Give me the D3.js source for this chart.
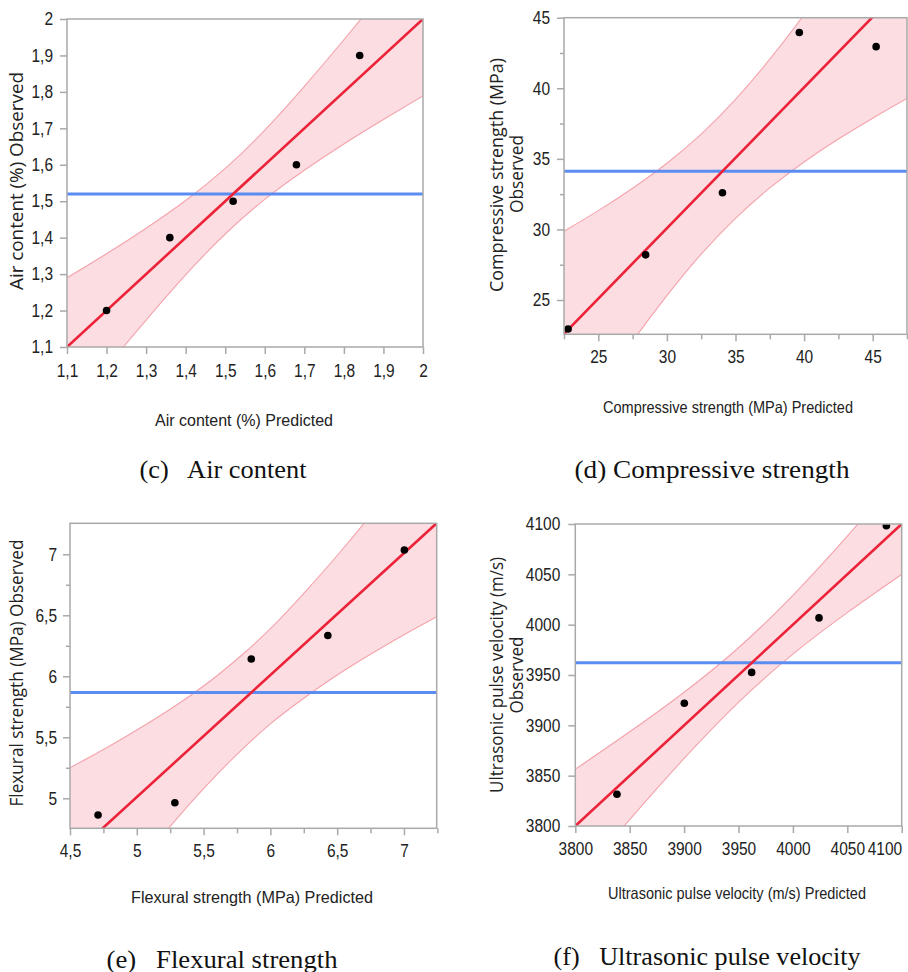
<!DOCTYPE html>
<html>
<head>
<meta charset="utf-8">
<script src="https://cdn.jsdelivr.net/npm/d3@7"></script>
<style>
  html, body { margin: 0; padding: 0; background: #fff; }
  svg { display: block; }
</style>
</head>
<body>
<svg id="chart" width="908" height="972"></svg>
<script>
// ---------- (c) Air content ----------
const airPred = [1.2, 1.36, 1.52, 1.68, 1.84];
const airObs = [1.2, 1.4, 1.5, 1.6, 1.9];
const airTicks = [1.1, 1.2, 1.3, 1.4, 1.5, 1.6, 1.7, 1.8, 1.9, 2];
const airBandX = [1.1, 1.2, 1.3, 1.4, 1.5, 1.6, 1.7, 1.8, 1.9, 2.0];
const airBandHi = [1.290, 1.356, 1.426, 1.502, 1.590, 1.695, 1.815, 1.943, 2.076, 2.211];
const airBandLo = [0.910, 1.044, 1.174, 1.298, 1.410, 1.505, 1.585, 1.657, 1.724, 1.789];
const airFitX = [1.1, 2.0];
const airFitY = [1.1, 2.0];

// ---------- (d) Compressive strength ----------
const compPred = [22.8, 28.45, 34.05, 39.65, 45.25];
const compObs = [22.95, 28.2, 32.6, 43.95, 42.95];
const compTicks = [25, 30, 35, 40, 45];
const compMinor = [22.5, 27.5, 32.5, 37.5, 42.5, 47.5];
const compYMinor = [27.5, 32.5, 37.5, 42.5];
const compBandX = [22.5, 25, 27.5, 30, 32.5, 35, 37.5, 40, 42.5, 45, 47.5];
const compBandHi = [29.87, 31.33, 32.92, 34.69, 36.75, 39.21, 42.06, 45.22, 48.6, 52.12, 55.72];
const compBandLo = [15.13, 18.67, 22.08, 25.31, 28.25, 30.79, 32.94, 34.78, 36.4, 37.88, 39.28];
const compFitX = [22.5, 47.5];
const compFitY = [22.6, 47.55];

// ---------- (e) Flexural strength ----------
const flexPred = [4.71, 5.285, 5.857, 6.43, 7.003];
const flexObs = [4.863, 4.964, 6.142, 6.334, 7.035];
const flexXTicks = [4.5, 5, 5.5, 6, 6.5, 7];
const flexXMinor = [4.75, 5.25, 5.75, 6.25, 6.75, 7.25];
const flexYTicks = [5, 5.5, 6, 6.5, 7];
const flexYMinor = [5.25, 5.75, 6.25, 6.75];
const flexBandX = [4.5, 4.75, 5, 5.25, 5.5, 5.75, 6, 6.25, 6.5, 6.75, 7, 7.25];
const flexBandHi = [5.25, 5.40, 5.56, 5.73, 5.92, 6.14, 6.39, 6.68, 6.99, 7.32, 7.67, 8.02];
const flexBandLo = [3.75, 4.10, 4.44, 4.77, 5.08, 5.36, 5.61, 5.82, 6.01, 6.18, 6.34, 6.49];
const flexFitX = [4.5, 7.25];
const flexFitY = [4.51, 7.26];

// ---------- (f) Ultrasonic pulse velocity ----------
const upvPred = [3838.3, 3900.2, 3962.1, 4024.0, 4085.9];
const upvObs = [3831.5, 3922.0, 3952.6, 4006.7, 4098.3];
const upvTicks = [3800, 3850, 3900, 3950, 4000, 4050, 4100];
const upvBandX = [3800, 3850, 3900, 3950, 4000, 4050, 4100];
const upvBandHi = [3856.4, 3893.6, 3932.9, 3977.1, 4029.2, 4088.0, 4150.0];
const upvBandLo = [3743.6, 3806.4, 3867.1, 3922.9, 3970.8, 4012.0, 4050.0];
const upvFitX = [3800, 4100];
const upvFitY = [3800, 4100];

const fmtComma = v => String(+(+v).toFixed(3)).replace(".", ",");
const svg = d3.select("#chart");
const W = 908;

// horizontally condense text to mimic the narrow original rendering
function condense(sel, factor) {
  sel.each(function () {
    const len = this.getComputedTextLength();
    if (len > 0) {
      d3.select(this).attr("textLength", len * factor).attr("lengthAdjust", "spacingAndGlyphs");
    }
  });
}
function styleTickText(sel) {
  sel.selectAll(".tick text")
    .style("font-family", "'Liberation Sans', sans-serif")
    .style("font-size", "18px")
    .style("fill", "#222");
}
function keepInside(sel) {
  sel.selectAll(".tick text").each(function () {
    const b = this.getBoundingClientRect();
    if (b.right > W - 3) {
      const cur = +d3.select(this).attr("x") || 0;
      d3.select(this).attr("x", cur - (b.right - (W - 3)));
    }
  });
}

function drawPanel(c, idx) {
  const x = d3.scaleLinear().domain(c.xDomain).range([c.left, c.right]);
  const y = d3.scaleLinear().domain(c.yDomain).range([c.bottom, c.top]);
  const g = svg.append("g");
  const clipId = "clip" + idx;
  g.append("clipPath").attr("id", clipId).append("rect")
    .attr("x", c.left).attr("y", c.top)
    .attr("width", c.right - c.left).attr("height", c.bottom - c.top);
  const plot = g.append("g").attr("clip-path", `url(#${clipId})`);

  const band = c.bandX.map((bx, i) => ({ x: bx, hi: c.bandHi[i], lo: c.bandLo[i] }));
  plot.append("path").datum(band)
    .attr("d", d3.area().x(d => x(d.x)).y0(d => y(d.lo)).y1(d => y(d.hi)).curve(d3.curveNatural))
    .attr("fill", "#fcdde2");
  ["hi", "lo"].forEach(k => {
    plot.append("path").datum(band)
      .attr("d", d3.line().x(d => x(d.x)).y(d => y(d[k])).curve(d3.curveNatural))
      .attr("fill", "none").attr("stroke", "#f4a3ab").attr("stroke-width", 1.1);
  });

  const mean = d3.mean(c.obs);
  plot.append("line")
    .attr("x1", c.left).attr("x2", c.right)
    .attr("y1", y(mean)).attr("y2", y(mean))
    .attr("stroke", "#5b8cf2").attr("stroke-width", 3);

  plot.append("line")
    .attr("x1", x(c.fitX[0])).attr("y1", y(c.fitY[0]))
    .attr("x2", x(c.fitX[1])).attr("y2", y(c.fitY[1]))
    .attr("stroke", "#ec2238").attr("stroke-width", 2.6);

  plot.selectAll("circle").data(c.pred.map((p, i) => [p, c.obs[i]]))
    .join("circle")
    .attr("cx", d => x(d[0])).attr("cy", d => y(d[1])).attr("r", 3.8)
    .attr("fill", "#000");

  // frame
  g.append("rect")
    .attr("x", c.left).attr("y", c.top)
    .attr("width", c.right - c.left).attr("height", c.bottom - c.top)
    .attr("fill", "none").attr("stroke", "#a9a9a9").attr("stroke-width", 1.5);

  // axes
  const styleAxis = sel => {
    sel.select(".domain").remove();
    sel.selectAll(".tick line").attr("stroke", "#a9a9a9").attr("stroke-width", 1.5);
  };
  const xAx = g.append("g").attr("transform", `translate(0,${c.bottom})`)
    .call(d3.axisBottom(x).tickValues(c.xTicks).tickFormat(fmtComma).tickSize(7).tickPadding(c.xPad))
    .call(styleAxis).call(styleTickText);
  keepInside(xAx);
  condense(xAx.selectAll(".tick text"), 0.86);
  if (c.xMinor) {
    g.append("g").attr("transform", `translate(0,${c.bottom})`)
      .call(d3.axisBottom(x).tickValues(c.xMinor).tickFormat("").tickSize(5))
      .call(styleAxis);
  }
  const yAx = g.append("g").attr("transform", `translate(${c.left},0)`)
    .call(d3.axisLeft(y).tickValues(c.yTicks).tickFormat(fmtComma).tickSize(7).tickPadding(c.yPad))
    .call(styleAxis).call(styleTickText);
  condense(yAx.selectAll(".tick text"), 0.86);
  if (c.yMinor) {
    g.append("g").attr("transform", `translate(${c.left},0)`)
      .call(d3.axisLeft(y).tickValues(c.yMinor).tickFormat("").tickSize(4))
      .call(styleAxis);
  }

  // x title
  g.append("text")
    .attr("x", c.xTitlePos[0]).attr("y", c.xTitlePos[1])
    .attr("text-anchor", "middle")
    .attr("font-family", "'Liberation Sans', sans-serif")
    .attr("font-size", 16.5).attr("fill", "#222")
    .attr("textLength", c.xTitleLen).attr("lengthAdjust", "spacingAndGlyphs")
    .text(c.xTitle);

  // y title (one or two lines)
  c.yTitle.forEach((line, i) => {
    g.append("text")
      .attr("transform", `translate(${c.yTitlePos[i][0]},${c.yTitlePos[i][1]}) rotate(-90)`)
      .attr("text-anchor", "middle").attr("dy", "0.35em")
      .attr("font-family", "'Open Sans', 'Noto Sans', sans-serif")
      .attr("font-size", 17.5).attr("fill", "#222")
      .attr("textLength", c.yTitleLen[i]).attr("lengthAdjust", "spacingAndGlyphs")
      .text(line);
  });

  // caption
  g.append("text")
    .attr("x", c.capPos[0]).attr("y", c.capPos[1])
    .attr("text-anchor", "middle")
    .attr("font-family", "'Liberation Serif', serif")
    .attr("font-size", 25).attr("fill", "#111")
    .attr("textLength", c.capLen).attr("lengthAdjust", "spacingAndGlyphs")
    .style("white-space", "pre")
    .text(c.caption);
}

const panels = [
  {
    pred: airPred, obs: airObs, bandX: airBandX, bandHi: airBandHi, bandLo: airBandLo,
    fitX: airFitX, fitY: airFitY,
    xDomain: [1.1, 2], yDomain: [1.1, 2],
    left: 67, right: 423, top: 19, bottom: 347,
    xTicks: airTicks, yTicks: airTicks, xPad: 10, yPad: 7,
    xTitle: "Air content (%) Predicted", xTitlePos: [244, 426], xTitleLen: 178,
    yTitle: ["Air content (%) Observed"], yTitlePos: [[17, 181]], yTitleLen: [218],
    caption: "(c)   Air content", capPos: [223, 478], capLen: 167
  },
  {
    pred: compPred, obs: compObs, bandX: compBandX, bandHi: compBandHi, bandLo: compBandLo,
    fitX: compFitX, fitY: compFitY,
    xDomain: [22.5, 47.5], yDomain: [22.57, 45],
    left: 564, right: 907, top: 17.7, bottom: 334.3,
    xTicks: compTicks, xMinor: compMinor, yTicks: compTicks, yMinor: compYMinor,
    xPad: 9, yPad: 7,
    xTitle: "Compressive strength (MPa) Predicted", xTitlePos: [728, 413], xTitleLen: 250,
    yTitle: ["Compressive strength (MPa)", "Observed"], yTitlePos: [[497, 175], [517, 174]], yTitleLen: [234, 78],
    caption: "(d) Compressive strength", capPos: [712, 478], capLen: 275
  },
  {
    pred: flexPred, obs: flexObs, bandX: flexBandX, bandHi: flexBandHi, bandLo: flexBandLo,
    fitX: flexFitX, fitY: flexFitY,
    xDomain: [4.5, 7.245], yDomain: [4.754, 7.254],
    left: 70, right: 436.7, top: 523.3, bottom: 828.3,
    xTicks: flexXTicks, xMinor: flexXMinor, yTicks: flexYTicks, yMinor: flexYMinor,
    xPad: 9, yPad: 6,
    xTitle: "Flexural strength (MPa) Predicted", xTitlePos: [252, 903], xTitleLen: 242,
    yTitle: ["Flexural strength (MPa) Observed"], yTitlePos: [[17, 673]], yTitleLen: [267],
    caption: "(e)   Flexural strength", capPos: [222, 968], capLen: 231
  },
  {
    pred: upvPred, obs: upvObs, bandX: upvBandX, bandHi: upvBandHi, bandLo: upvBandLo,
    fitX: upvFitX, fitY: upvFitY,
    xDomain: [3800, 4100], yDomain: [3800, 4100],
    left: 575.3, right: 901.7, top: 524, bottom: 826,
    xTicks: upvTicks, yTicks: upvTicks, xPad: 9, yPad: 8,
    xTitle: "Ultrasonic pulse velocity (m/s) Predicted", xTitlePos: [737, 899], xTitleLen: 258,
    yTitle: ["Ultrasonic pulse velocity (m/s)", "Observed"], yTitlePos: [[497, 675], [517, 675]], yTitleLen: [236, 77],
    caption: "(f)   Ultrasonic pulse velocity", capPos: [707, 965], capLen: 307
  }
];

panels.forEach(drawPanel);
</script>
</body>
</html>
